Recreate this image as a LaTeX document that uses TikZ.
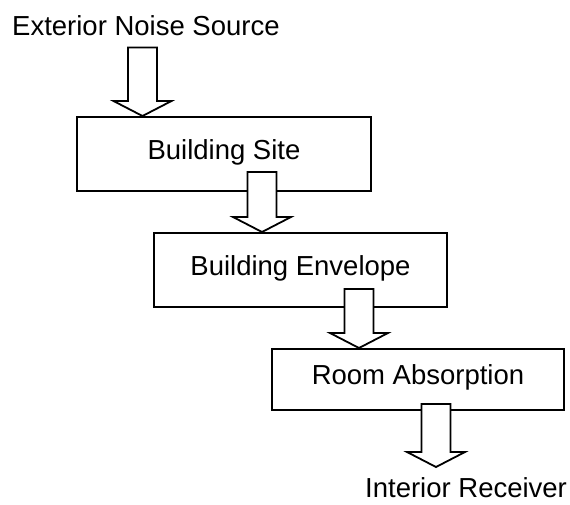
\documentclass[tikz,border=0pt]{standalone}
\usepackage{fontspec}
\setmainfont{Liberation Sans}
\usetikzlibrary{positioning,calc}
\tikzset{
  stagebox/.style={draw, line width=2pt, inner sep=0pt, text height=20pt, text depth=10pt,
    font=\fontsize{27.5}{33}\selectfont},
  endtext/.style={inner sep=0pt, font=\fontsize{27.5}{33}\selectfont},
  fat/.style={draw, fill=white, line width=1.8pt, line join=miter}
}
% hollow block arrow: #1 top of shaft, #2 tip
\newcommand{\fatarrow}[2]{%
  \filldraw[fat] let \p1=#1, \p2=#2 in
    (\x2-14.5pt,\y1) -- (\x2+14.5pt,\y1) -- (\x2+14.5pt,\y2+15pt) -- (\x2+29pt,\y2+15pt)
    -- (\x2,\y2) -- (\x2-29pt,\y2+15pt) -- (\x2-14.5pt,\y2+15pt) -- cycle;}
\begin{document}
\begin{tikzpicture}[x=1pt,y=-1pt]
\useasboundingbox (0,0) rectangle (570,504);
\node[endtext, anchor=base west] (src) at (12,35) {Exterior Noise Source};
\node[stagebox, minimum width=294, minimum height=74] (site) at (224,154) {Building Site};
\node[stagebox, minimum width=293, minimum height=74] (env) at (300.5,270) {Building Envelope};
\node[stagebox, minimum width=292, minimum height=61] (room) at (418,379.5) {Room Absorption};
\node[endtext, anchor=base west] (rcv) at (365,497) {Interior Receiver};
\coordinate (t1) at ($(site.north west)+(66.5,0)$);
\coordinate (t2) at ($(env.north west)+(109,0)$);
\coordinate (t3) at ($(room.north west)+(88,0)$);
\coordinate (t4) at ($(room.south west)+(165,56)$);
\fatarrow{([yshift=-12pt]src.south -| t1)}{(t1)}
\fatarrow{([yshift=20pt]site.south -| t2)}{(t2)}
\fatarrow{([yshift=19pt]env.south -| t3)}{(t3)}
\fatarrow{([yshift=7pt]room.south -| t4)}{(t4)}
\end{tikzpicture}
\end{document}
